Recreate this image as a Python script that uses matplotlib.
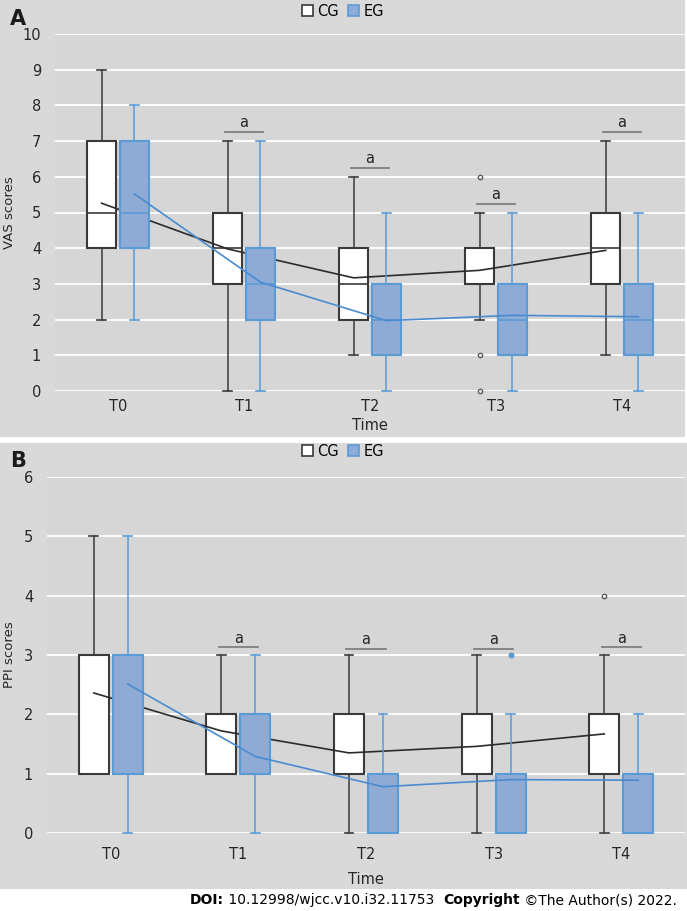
import matplotlib
matplotlib.use("Agg")
import matplotlib.pyplot as plt
from matplotlib.patches import Rectangle, Patch

plt.rcParams['font.family'] = ['DejaVu Sans']

# ---------------- data ----------------
times = ["T0", "T1", "T2", "T3", "T4"]

# Panel A (VAS)
vas_cg_lo  = [2, 0, 1, 2, 1]
vas_cg_q1  = [4, 3, 2, 3, 3]
vas_cg_med = [5, 4, 3, 4, 4]
vas_cg_q3  = [7, 5, 4, 4, 5]
vas_cg_hi  = [9, 7, 6, 5, 7]
vas_cg_fliers = [[], [], [], [6, 1, 0], []]
vas_cg_mean = [5.26, 3.98, 3.17, 3.38, 3.94]

vas_eg_lo  = [2, 0, 0, 0, 0]
vas_eg_q1  = [4, 2, 1, 1, 1]
vas_eg_med = [5, 3, 2, 2, 2]
vas_eg_q3  = [7, 4, 3, 3, 3]
vas_eg_hi  = [8, 7, 5, 5, 5]
vas_eg_fliers = [[], [], [], [], []]
vas_eg_mean = [5.52, 3.05, 1.97, 2.12, 2.08]

vas_sig = [None, 7.25, 6.25, 5.25, 7.25]

# Panel B (PPI)
ppi_cg_lo  = [1, 1, 0, 0, 0]
ppi_cg_q1  = [1, 1, 1, 1, 1]
ppi_cg_med = [1, 2, 1, 1, 2]
ppi_cg_q3  = [3, 2, 2, 2, 2]
ppi_cg_hi  = [5, 3, 3, 3, 3]
ppi_cg_fliers = [[], [], [], [], [4]]
ppi_cg_mean = [2.36, 1.72, 1.35, 1.46, 1.67]

ppi_eg_lo  = [0, 0, 0, 0, 0]
ppi_eg_q1  = [1, 1, 0, 0, 0]
ppi_eg_med = [1, 1, 1, 1, 1]
ppi_eg_q3  = [3, 2, 1, 1, 1]
ppi_eg_hi  = [5, 3, 2, 2, 2]
ppi_eg_fliers = [[], [], [], [3], []]
ppi_eg_mean = [2.51, 1.29, 0.78, 0.90, 0.89]

ppi_sig = [None, 3.13, 3.1, 3.1, 3.13]

# ---------------- style ----------------
BG = "#d9d9d9"
PLOT_BG = "#d6d6d6"
CG_EDGE = "#3a3a3a"
EG_EDGE = "#5b9bd5"
EG_FILL = "#8eabd6"
CG_LINE = "#2b2b2b"
EG_LINE = "#4a8bd0"
SIG = "#808080"

W, H = 687, 911
fig = plt.figure(figsize=(W / 100, H / 100), dpi=100)
fig.patch.set_facecolor("white")

def fy(px):
    return 1 - px / H

def fx(px):
    return px / W

# panel backgrounds
fig.patches.append(Rectangle((0, fy(437)), fx(685), fy(0) - fy(437),
                             transform=fig.transFigure, facecolor=BG, edgecolor="none", zorder=-5))
fig.patches.append(Rectangle((0, fy(889)), fx(687), fy(443) - fy(889),
                             transform=fig.transFigure, facecolor=BG, edgecolor="none", zorder=-5))


def stats(lo, q1, med, q3, hi, fl, mean):
    out = []
    for i in range(len(lo)):
        out.append(dict(whislo=lo[i], q1=q1[i], med=med[i], q3=q3[i], whishi=hi[i],
                        fliers=fl[i], mean=mean[i]))
    return out


def draw_panel(ax, cg, eg, cg_mean, eg_mean, sig, ymax, off, width, ylabel, text_gap):
    ax.set_facecolor(PLOT_BG)
    for s in ax.spines.values():
        s.set_visible(False)
    ax.set_xlim(-0.5, 4.5)
    ax.set_ylim(0, ymax)
    ax.set_yticks(range(0, ymax + 1))
    ax.yaxis.grid(True, color="white", linewidth=1.3)
    ax.set_axisbelow(True)
    ax.tick_params(length=0, labelsize=10.5, colors="#262626")
    ax.tick_params(axis="y", pad=10)

    pos = list(range(len(times)))
    cg_pos = [p - off for p in pos]
    eg_pos = [p + off for p in pos]

    cg_art = ax.bxp(cg, positions=cg_pos, widths=width, patch_artist=True,
                    showmeans=False, manage_ticks=False,
                    boxprops=dict(facecolor="white", edgecolor=CG_EDGE, linewidth=1.5),
                    medianprops=dict(color=CG_EDGE, linewidth=1.2),
                    whiskerprops=dict(color=CG_EDGE, linewidth=1.1),
                    capprops=dict(color=CG_EDGE, linewidth=1.2),
                    capwidths=0.07,
                    flierprops=dict(marker="o", markersize=3.2, markerfacecolor="none",
                                    markeredgecolor="#555555", markeredgewidth=0.9))
    eg_art = ax.bxp(eg, positions=eg_pos, widths=width, patch_artist=True,
                    showmeans=False, manage_ticks=False,
                    boxprops=dict(facecolor=EG_FILL, edgecolor=EG_EDGE, linewidth=1.5),
                    medianprops=dict(color=EG_EDGE, linewidth=1.2),
                    whiskerprops=dict(color=EG_EDGE, linewidth=1.1),
                    capprops=dict(color=EG_EDGE, linewidth=1.2),
                    capwidths=0.07,
                    flierprops=dict(marker="o", markersize=3.5, markerfacecolor=EG_EDGE,
                                    markeredgecolor=EG_EDGE, markeredgewidth=0.8))
    for art, z in ((cg_art, 2), (eg_art, 4)):
        for key in art:
            for a in art[key]:
                a.set_zorder(z)
                a.set_clip_on(False)
    ax.plot(cg_pos, cg_mean, color=CG_LINE, linewidth=1.2, zorder=3)
    ax.plot(eg_pos, eg_mean, color=EG_LINE, linewidth=1.2, zorder=5)

    ax.set_xticks(pos)
    ax.set_xticklabels(times)
    ax.set_xlabel("Time", fontsize=10.5, color="#262626")
    ax.set_ylabel(ylabel, fontsize=9.5, color="#262626")

    for i, y in enumerate(sig):
        if y is None:
            continue
        ax.plot([i - off - 0.02, i + off + 0.02], [y, y], color=SIG, linewidth=1.3, zorder=6)
        ax.text(i, y + text_gap, "a", ha="center", va="bottom", fontsize=10.5, color="#262626")

    handles = [Patch(facecolor="white", edgecolor=CG_EDGE, linewidth=1.2, label="CG"),
               Patch(facecolor=EG_FILL, edgecolor=EG_EDGE, linewidth=1.2, label="EG")]
    return handles


# Panel A
axA = fig.add_axes([fx(55), fy(391), fx(685) - fx(55), fy(34) - fy(391)])
hA = draw_panel(axA,
                stats(vas_cg_lo, vas_cg_q1, vas_cg_med, vas_cg_q3, vas_cg_hi, vas_cg_fliers, vas_cg_mean),
                stats(vas_eg_lo, vas_eg_q1, vas_eg_med, vas_eg_q3, vas_eg_hi, vas_eg_fliers, vas_eg_mean),
                vas_cg_mean, vas_eg_mean, vas_sig, 10, 0.13, 0.23, "VAS scores", 0.05)
axA.tick_params(axis="x", pad=6)
axA.xaxis.labelpad = 3
axA.yaxis.set_label_coords(-0.062, 0.5)

# Panel B
axB = fig.add_axes([fx(47), fy(833), fx(685) - fx(47), fy(477) - fy(833)])
hB = draw_panel(axB,
                stats(ppi_cg_lo, ppi_cg_q1, ppi_cg_med, ppi_cg_q3, ppi_cg_hi, ppi_cg_fliers, ppi_cg_mean),
                stats(ppi_eg_lo, ppi_eg_q1, ppi_eg_med, ppi_eg_q3, ppi_eg_hi, ppi_eg_fliers, ppi_eg_mean),
                ppi_cg_mean, ppi_eg_mean, ppi_sig, 6, 0.133, 0.235, "PPI scores", 0.03)
axB.tick_params(axis="x", pad=10)
axB.xaxis.labelpad = 7
axB.yaxis.set_label_coords(-0.049, 0.5)

# legends
for handles, ypx in ((hA, 11), (hB, 451)):
    fig.legend(handles=handles, loc="center", bbox_to_anchor=(fx(343), fy(ypx)),
               ncol=2, frameon=False, fontsize=10.5, handlelength=0.75, handleheight=0.75,
               handletextpad=0.3, columnspacing=0.6, borderpad=0)

# panel letters
fig.text(fx(10), fy(25), "A", fontsize=15, fontweight="bold", color="#1a1a1a", va="baseline")
fig.text(fx(10), fy(467), "B", fontsize=15, fontweight="bold", color="#1a1a1a", va="baseline")

# footer
t1 = fig.text(fx(190), fy(904), "DOI:", fontsize=10, fontweight="bold", color="black", va="baseline")
ann2 = axB.annotate(" 10.12998/wjcc.v10.i32.11753  ", xy=(1, 0), xycoords=t1, va="bottom",
                    fontsize=10, color="black", annotation_clip=False)
ann3 = axB.annotate("Copyright", xy=(1, 0), xycoords=ann2, va="bottom",
                    fontsize=10, fontweight="bold", color="black", annotation_clip=False)
ann4 = axB.annotate(" ©The Author(s) 2022.", xy=(1, 0), xycoords=ann3, va="bottom",
                    fontsize=10, color="black", annotation_clip=False)

fig.savefig("out.png", dpi=100)
